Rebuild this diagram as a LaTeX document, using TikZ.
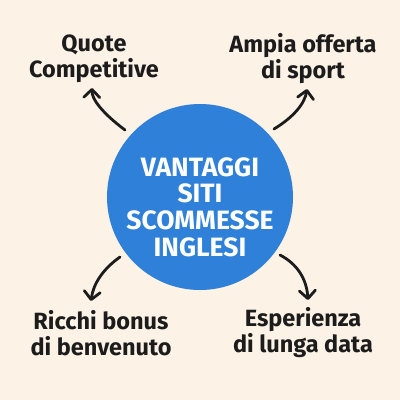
\documentclass[tikz,border=0pt]{standalone}
\usepackage{fontspec}
\setmainfont{Fira Sans}
\usetikzlibrary{arrows.meta}
\definecolor{bg}{HTML}{FCF2E6}
\definecolor{cblue}{HTML}{2F80D8}
\definecolor{ink}{HTML}{1C1C1C}
\begin{document}
\begin{tikzpicture}[x=1bp,y=-1bp,
  lbl/.style={align=center,text=ink,font=\bfseries\fontsize{23.5bp}{26bp}\selectfont},
  arr/.style={draw=ink,line width=2.8bp,line cap=round,-{Straight Barb[length=8bp,width=16bp,line cap=round,line join=round]}}]
\fill[bg] (0,0) rectangle (400,400);
\useasboundingbox (0,0) rectangle (400,400);
\node[circle,fill=cblue,minimum size=186bp,inner sep=0pt] (c) at (200,197) {};
\node[text=white,align=center,font=\bfseries\fontsize{26.5bp}{26.7bp}\selectfont] (t) at (200,207) {VANTAGGI\\SITI\\SCOMMESSE\\INGLESI};
\node[lbl] (q) at (94,59) {Quote\\Competitive};
\node[lbl] (a) at (303,59) {Ampia offerta\\di sport};
\node[lbl] (r) at (101,333) {Ricchi bonus\\di benvenuto};
\node[lbl] (e) at (303,333) {Esperienza\\di lunga data};
\coordinate (q1) at (125,130); \coordinate (q2) at (92,88);
\coordinate (a1) at (274,129); \coordinate (a2) at (307,89);
\coordinate (r1) at (120,257); \coordinate (r2) at (91,301);
\coordinate (e1) at (280,255); \coordinate (e2) at (308,300);
\draw[arr] (q1) .. controls (102.7,113.3) and (91.7,99.3) .. (q2);
\draw[arr] (a1) .. controls (293.7,117) and (304.7,103.7) .. (a2);
\draw[arr] (r1) .. controls (103,269) and (93.3,283.7) .. (r2);
\draw[arr] (e1) .. controls (297.3,264) and (306.7,279) .. (e2);
\end{tikzpicture}
\end{document}
